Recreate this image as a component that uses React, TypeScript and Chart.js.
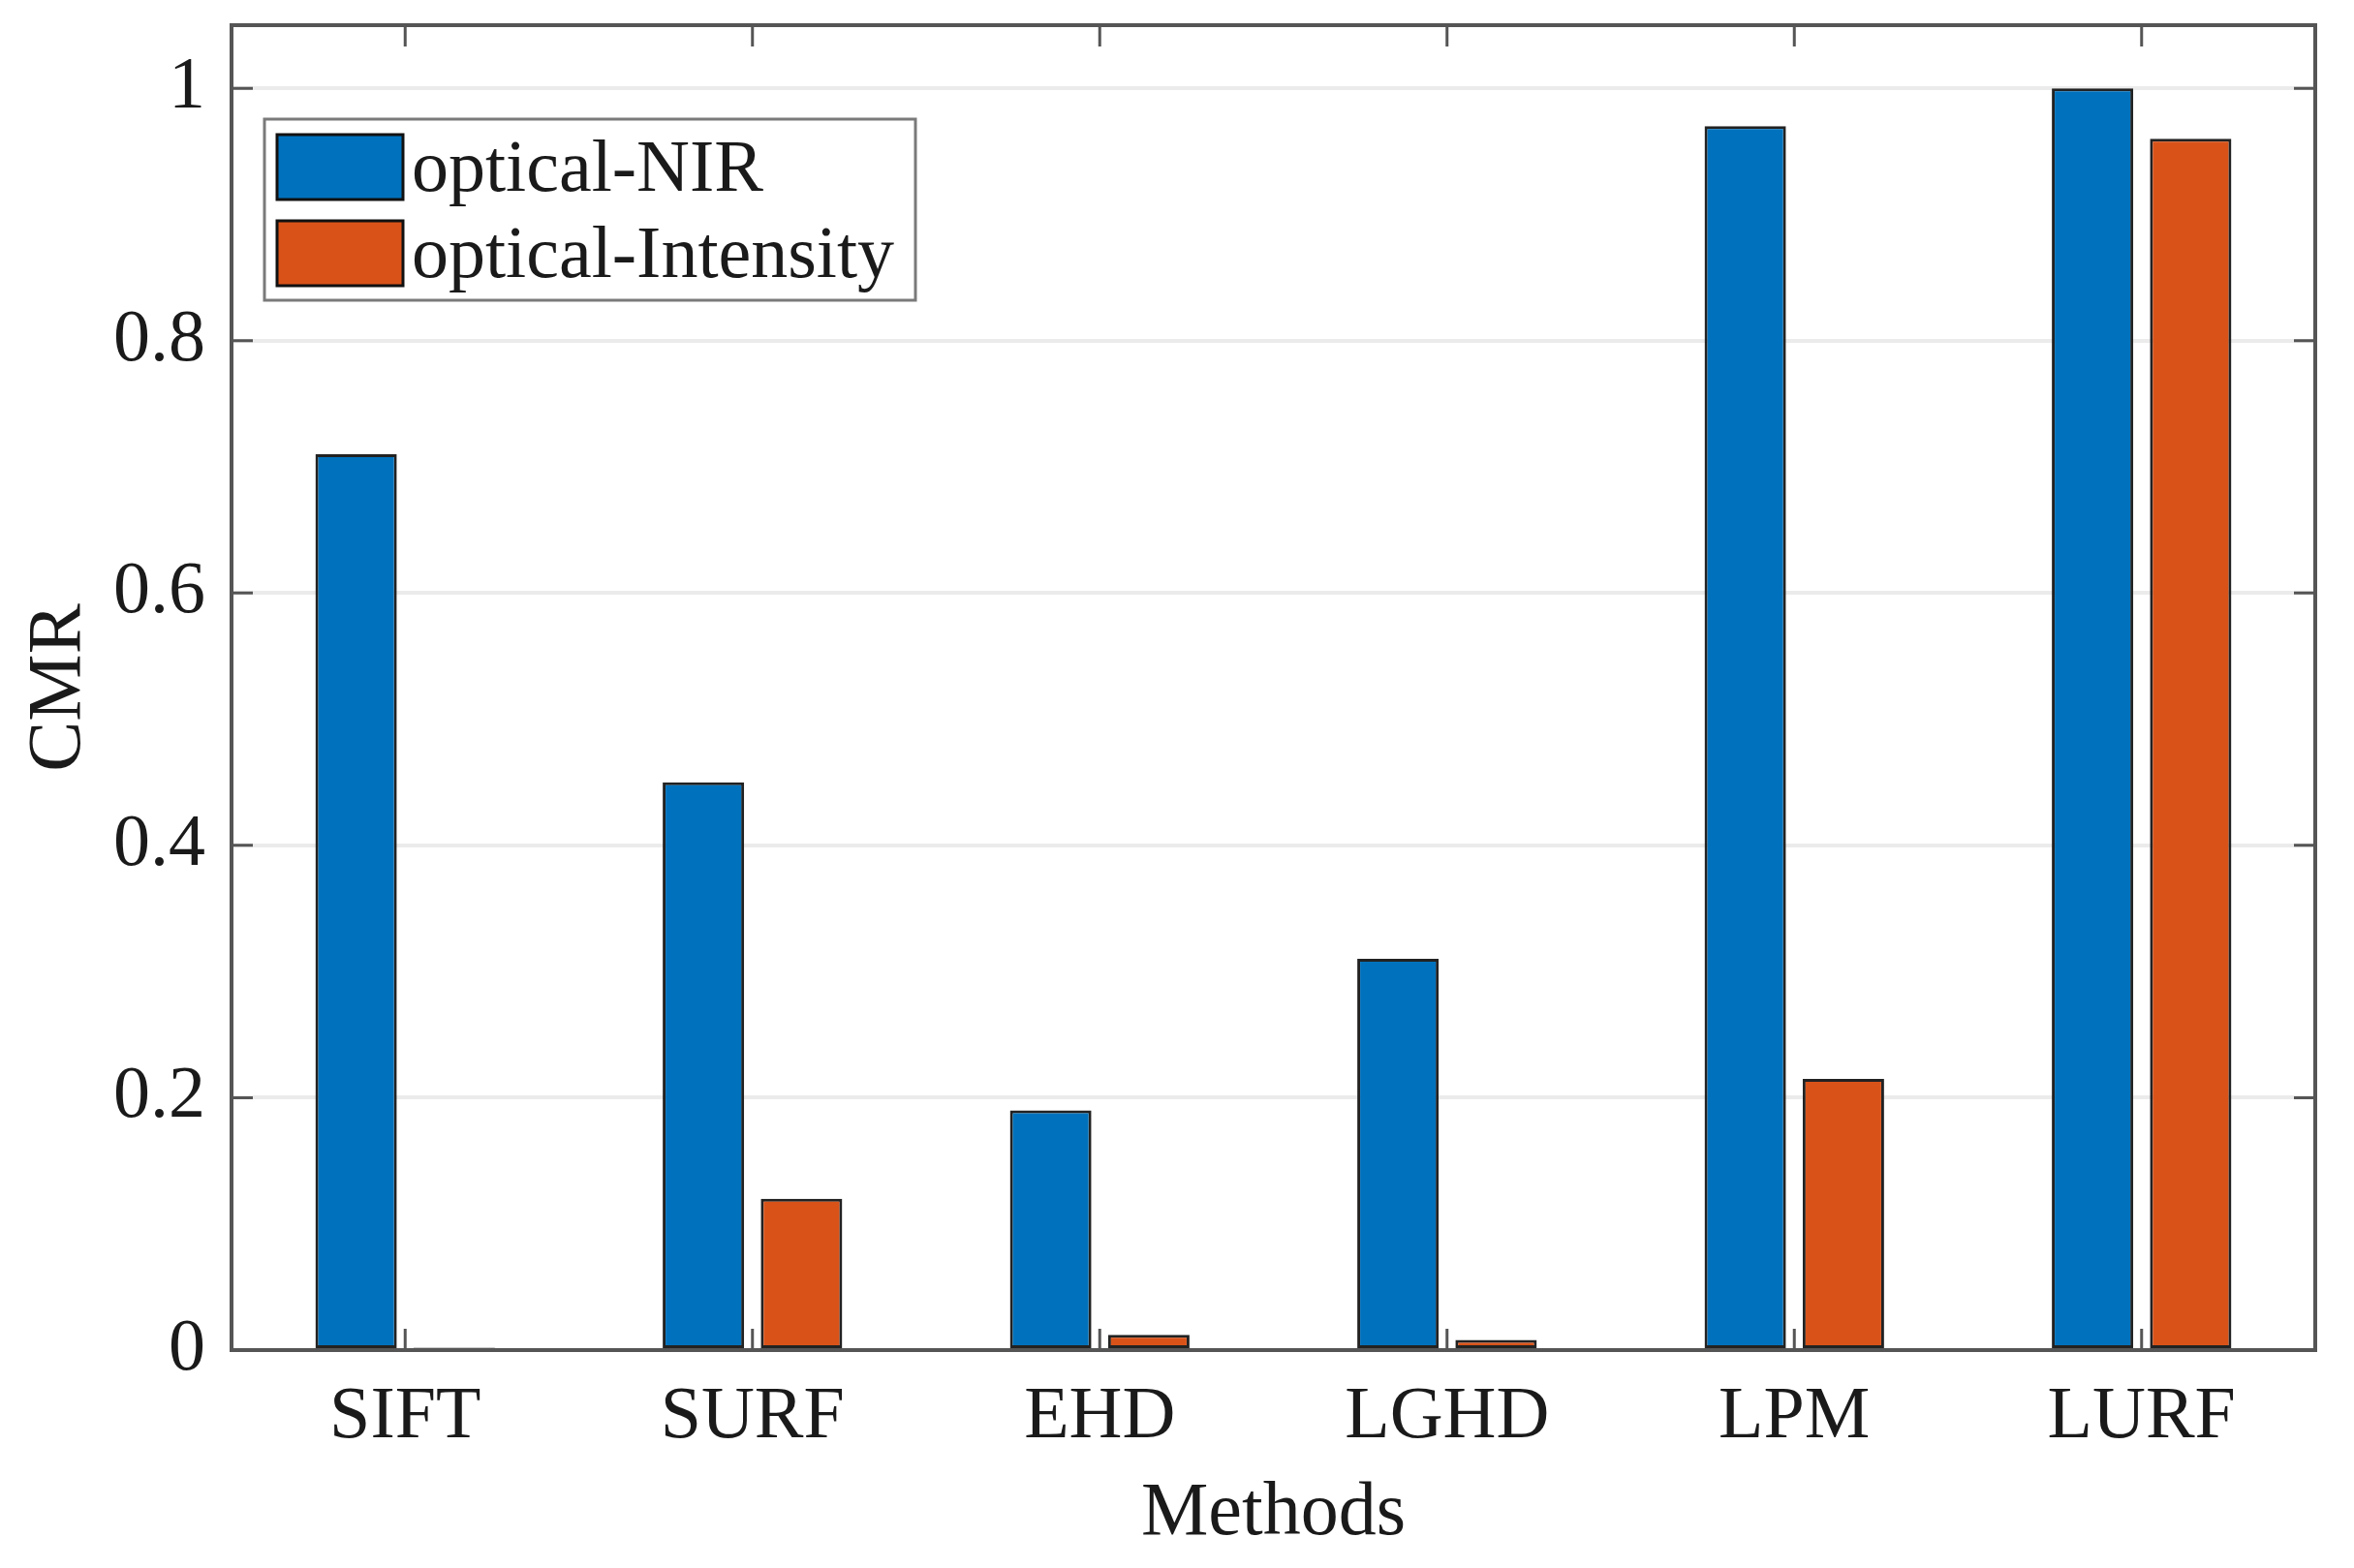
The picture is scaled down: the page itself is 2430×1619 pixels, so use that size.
import React, { useEffect, useRef } from 'react';
import { Chart, registerables } from 'chart.js';

Chart.register(...registerables);

const categories = ['SIFT', 'SURF', 'EHD', 'LGHD', 'LPM', 'LURF'];
const nirValues = [0.71, 0.45, 0.19, 0.31, 0.97, 1.0];
const intensityValues = [0.002, 0.12, 0.012, 0.008, 0.215, 0.96];
const seriesLabels = ['optical-NIR', 'optical-Intensity'];
const seriesColors = ['#0072BD', '#D95319'];
const yTickValues = [0, 0.2, 0.4, 0.6, 0.8, 1];
const yTickLabels = ['0', '0.2', '0.4', '0.6', '0.8', '1'];
const yMin = 0;
const yMax = 1.05;
const xTitle = 'Methods';
const yTitle = 'CMR';

const FONT = "'Liberation Serif', 'Times New Roman', serif";
const TEXT = '#1a1a1a';
const AXIS = '#555555';
const W = 2430;
const H = 1619;

const boxPlugin = {
  id: 'matlabBox',
  afterDatasetsDraw(chart: any) {
    const { ctx, chartArea: a, scales } = chart;
    const xs = scales.x;
    const ys = scales.y;
    ctx.save();
    ctx.strokeStyle = AXIS;
    ctx.lineWidth = 3;
    ctx.beginPath();
    yTickValues.forEach((v) => {
      const py = ys.getPixelForValue(v);
      ctx.moveTo(a.left, py);
      ctx.lineTo(a.left + 22, py);
      ctx.moveTo(a.right, py);
      ctx.lineTo(a.right - 22, py);
    });
    categories.forEach((_c, i) => {
      const px = xs.getPixelForValue(i);
      ctx.moveTo(px, a.top);
      ctx.lineTo(px, a.top + 22);
      ctx.moveTo(px, a.bottom);
      ctx.lineTo(px, a.bottom - 22);
    });
    ctx.stroke();
    ctx.lineWidth = 4;
    ctx.strokeRect(a.left, a.top, a.right - a.left, a.bottom - a.top);
    ctx.restore();
  },
};

const legendPlugin = {
  id: 'matlabLegend',
  afterDraw(chart: any) {
    const { ctx, chartArea: a } = chart;
    const bx = a.left + 34;
    const by = a.top + 97;
    const bw = 672;
    const bh = 187;
    ctx.save();
    ctx.fillStyle = '#ffffff';
    ctx.fillRect(bx, by, bw, bh);
    ctx.strokeStyle = '#7a7a7a';
    ctx.lineWidth = 3;
    ctx.strokeRect(bx, by, bw, bh);
    chart.data.datasets.forEach((ds: any, i: number) => {
      const sy = by + 16 + i * 89;
      ctx.fillStyle = ds.backgroundColor;
      ctx.fillRect(bx + 13, sy, 130, 67);
      ctx.strokeStyle = '#111111';
      ctx.lineWidth = 3;
      ctx.strokeRect(bx + 13, sy, 130, 67);
      ctx.fillStyle = TEXT;
      ctx.font = `76px ${FONT}`;
      ctx.textAlign = 'left';
      ctx.textBaseline = 'alphabetic';
      ctx.fillText(ds.label, bx + 152, sy + 58);
    });
    ctx.restore();
  },
};

export default function App() {
  const ref = useRef<HTMLCanvasElement | null>(null);

  useEffect(() => {
    if (!ref.current) return;
    const chart = new Chart(ref.current, {
      type: 'bar',
      data: {
        labels: categories,
        datasets: [
          {
            label: seriesLabels[0],
            data: nirValues,
            backgroundColor: seriesColors[0],
            borderColor: '#222222',
            borderWidth: 3,
            borderSkipped: false,
            categoryPercentage: 0.565,
            barPercentage: 0.83,
          },
          {
            label: seriesLabels[1],
            data: intensityValues,
            backgroundColor: seriesColors[1],
            borderColor: '#222222',
            borderWidth: 3,
            borderSkipped: false,
            categoryPercentage: 0.565,
            barPercentage: 0.83,
          },
        ],
      },
      options: {
        responsive: false,
        animation: false,
        devicePixelRatio: 1,
        layout: { padding: { left: 0, top: 26, right: 40, bottom: 0 } },
        plugins: {
          legend: { display: false },
          tooltip: { enabled: false },
          title: { display: false },
        },
        scales: {
          x: {
            type: 'category',
            offset: true,
            grid: { display: false, drawTicks: false },
            border: { display: false },
            ticks: {
              color: TEXT,
              font: { family: FONT, size: 76, lineHeight: 1 },
              padding: 32,
              maxRotation: 0,
              autoSkip: false,
            },
            title: {
              display: true,
              text: xTitle,
              color: TEXT,
              font: { family: FONT, size: 78, lineHeight: 1 },
              padding: { top: 0, bottom: 16 },
            },
            afterFit: (scale: any) => {
              scale.height = 225;
              scale.paddingLeft = 0;
              scale.paddingRight = 0;
            },
          },
          y: {
            type: 'linear',
            min: yMin,
            max: yMax,
            grid: { color: '#ebebeb', lineWidth: 4, drawTicks: false },
            border: { display: false },
            afterBuildTicks: (scale: any) => {
              scale.ticks = yTickValues.map((v) => ({ value: v }));
            },
            ticks: {
              color: TEXT,
              font: { family: FONT, size: 76, lineHeight: 1 },
              padding: 27,
              callback: (value: any) => {
                const idx = yTickValues.indexOf(Number(value));
                return idx >= 0 ? yTickLabels[idx] : '';
              },
            },
            title: {
              display: true,
              text: yTitle,
              color: TEXT,
              font: { family: FONT, size: 78, lineHeight: 1 },
              padding: { top: 23, bottom: 0 },
            },
            afterFit: (scale: any) => {
              scale.width = 239;
              scale.paddingTop = 0;
              scale.paddingBottom = 0;
            },
          },
        },
      },
      plugins: [boxPlugin, legendPlugin],
    });
    return () => chart.destroy();
  }, []);

  return (
    <div style={{ position: 'fixed', left: 0, top: 0, width: W, height: H, background: '#ffffff' }}>
      <canvas ref={ref} width={W} height={H} style={{ width: W, height: H, display: 'block' }} />
    </div>
  );
}
